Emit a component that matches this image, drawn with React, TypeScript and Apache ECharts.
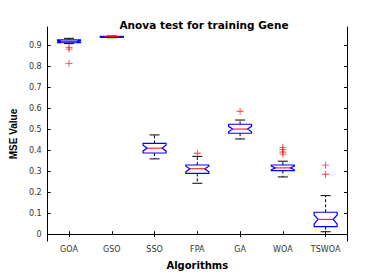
import React, { useEffect, useRef } from "react";
import * as echarts from "echarts";

const categories = ["GOA", "GSO", "SSO", "FPA", "GA", "WOA", "TSWOA"];
const lowerWhisker = [0.908, 0.936, 0.359, 0.243, 0.454, 0.273, 0.012];
const q1 = [0.912, 0.938, 0.387, 0.29, 0.481, 0.303, 0.036];
const medians = [0.918, 0.941, 0.41, 0.312, 0.501, 0.316, 0.071];
const q3 = [0.926, 0.943, 0.433, 0.33, 0.524, 0.33, 0.105];
const upperWhisker = [0.933, 0.944, 0.473, 0.371, 0.544, 0.348, 0.184];
const notchLow = [0.914, 0.939, 0.397, 0.298, 0.488, 0.307, 0.049];
const notchHigh = [0.922, 0.942, 0.424, 0.324, 0.514, 0.325, 0.092];
const outliers: [number, number][] = [
  [0, 0.89], [0, 0.882], [0, 0.814],
  [3, 0.386],
  [4, 0.586],
  [5, 0.414], [5, 0.403], [5, 0.392], [5, 0.382],
  [6, 0.329], [6, 0.286],
];
const yTicks = [0, 0.1, 0.2, 0.3, 0.4, 0.5, 0.6, 0.7, 0.8, 0.9];

export default function App() {
  const ref = useRef<HTMLDivElement>(null);
  useEffect(() => {
    const chart = echarts.init(ref.current!, null, { renderer: "svg" });
    const boxData = categories.map((_, i) => [
      i, lowerWhisker[i], q1[i], medians[i], q3[i], upperWhisker[i], notchLow[i], notchHigh[i],
    ]);
    const font = "Liberation Sans, Arial, sans-serif";
    const wide = "DejaVu Sans, sans-serif";
    const tickLabel = { fontFamily: wide, fontSize: 8, color: "#333" };
    const yCommon = {
      type: "value",
      min: -0.032,
      max: 0.987,
      splitLine: { show: false },
      axisLine: { show: true, lineStyle: { color: "#000", width: 1 } },
      axisTick: { show: true, inside: true, length: 3, customValues: yTicks, lineStyle: { color: "#000" } },
    };
    const xCommon = {
      type: "category",
      data: categories,
      boundaryGap: true,
      axisLine: { show: true, lineStyle: { color: "#000", width: 1 } },
      axisTick: { show: true, inside: true, length: 3, alignWithLabel: true, lineStyle: { color: "#000" } },
      splitLine: { show: false },
    };
    chart.setOption({
      animation: false,
      title: {
        text: "Anova test for training Gene",
        left: 199,
        top: 14,
        textAlign: "center",
        textStyle: { fontFamily: wide, fontSize: 10.5, fontWeight: "bold", color: "#000" },
      },
      grid: { left: 45, top: 27, width: 302, height: 214, containLabel: false },
      xAxis: [
        {
          ...xCommon,
          position: "bottom",
          name: "Algorithms",
          nameLocation: "middle",
          nameGap: 19,
          nameTextStyle: { fontFamily: wide, fontSize: 10, fontWeight: "bold", color: "#000" },
          axisLabel: { ...tickLabel, margin: 4 },
        },
        { ...xCommon, position: "top", axisLabel: { show: false } },
      ],
      yAxis: [
        {
          ...yCommon,
          position: "left",
          name: "MSE Value",
          nameLocation: "middle",
          nameGap: 28,
          nameTextStyle: { fontFamily: font, fontSize: 10, fontWeight: "bold", color: "#000" },
          axisLabel: { ...tickLabel, margin: 6, customValues: yTicks, formatter: (v: number) => String(Math.round(v * 10) / 10) },
        },
        { ...yCommon, position: "right", axisLabel: { show: false } },
      ],
      series: [
        {
          type: "custom",
          xAxisIndex: 0,
          yAxisIndex: 0,
          data: boxData,
          renderItem: (params: any, api: any) => {
            const idx = api.value(0);
            const lw = api.coord([idx, api.value(1)]);
            const b1 = api.coord([idx, api.value(2)]);
            const md = api.coord([idx, api.value(3)]);
            const b3 = api.coord([idx, api.value(4)]);
            const uw = api.coord([idx, api.value(5)]);
            const nl = api.coord([idx, api.value(6)]);
            const nh = api.coord([idx, api.value(7)]);
            const cx = md[0];
            const half = 11.5;
            const inner = 7.5;
            const cap = 5;
            const L = cx - half, R = cx + half;
            return {
              type: "group",
              children: [
                { type: "line", shape: { x1: cx, y1: b3[1], x2: cx, y2: uw[1] }, style: { stroke: "#000", lineWidth: 1, lineDash: [3, 2] } },
                { type: "line", shape: { x1: cx, y1: b1[1], x2: cx, y2: lw[1] }, style: { stroke: "#000", lineWidth: 1, lineDash: [3, 2] } },
                { type: "line", shape: { x1: cx - cap, y1: uw[1], x2: cx + cap, y2: uw[1] }, style: { stroke: "#000", lineWidth: 1 } },
                { type: "line", shape: { x1: cx - cap, y1: lw[1], x2: cx + cap, y2: lw[1] }, style: { stroke: "#000", lineWidth: 1 } },
                {
                  type: "polygon",
                  shape: {
                    points: [
                      [L, b3[1]], [L, nh[1]], [cx - inner, md[1]], [L, nl[1]], [L, b1[1]],
                      [R, b1[1]], [R, nl[1]], [cx + inner, md[1]], [R, nh[1]], [R, b3[1]],
                    ],
                  },
                  style: { fill: "none", stroke: "#0000ff", lineWidth: 1.2 },
                },
                { type: "line", shape: { x1: cx - inner, y1: md[1], x2: cx + inner, y2: md[1] }, style: { stroke: "#ff0000", lineWidth: 1 } },
              ],
            };
          },
        },
        {
          type: "scatter",
          xAxisIndex: 0,
          yAxisIndex: 0,
          data: outliers,
          symbol: "path://M4.4,0H5.6V4.4H10V5.6H5.6V10H4.4V5.6H0V4.4H4.4Z",
          symbolSize: 7,
          itemStyle: { color: "#ff0000" },
        },
      ],
    });
    return () => chart.dispose();
  }, []);
  return <div ref={ref} style={{ position: "fixed", left: 0, top: 0, width: 367, height: 275, background: "#fff" }} />;
}
